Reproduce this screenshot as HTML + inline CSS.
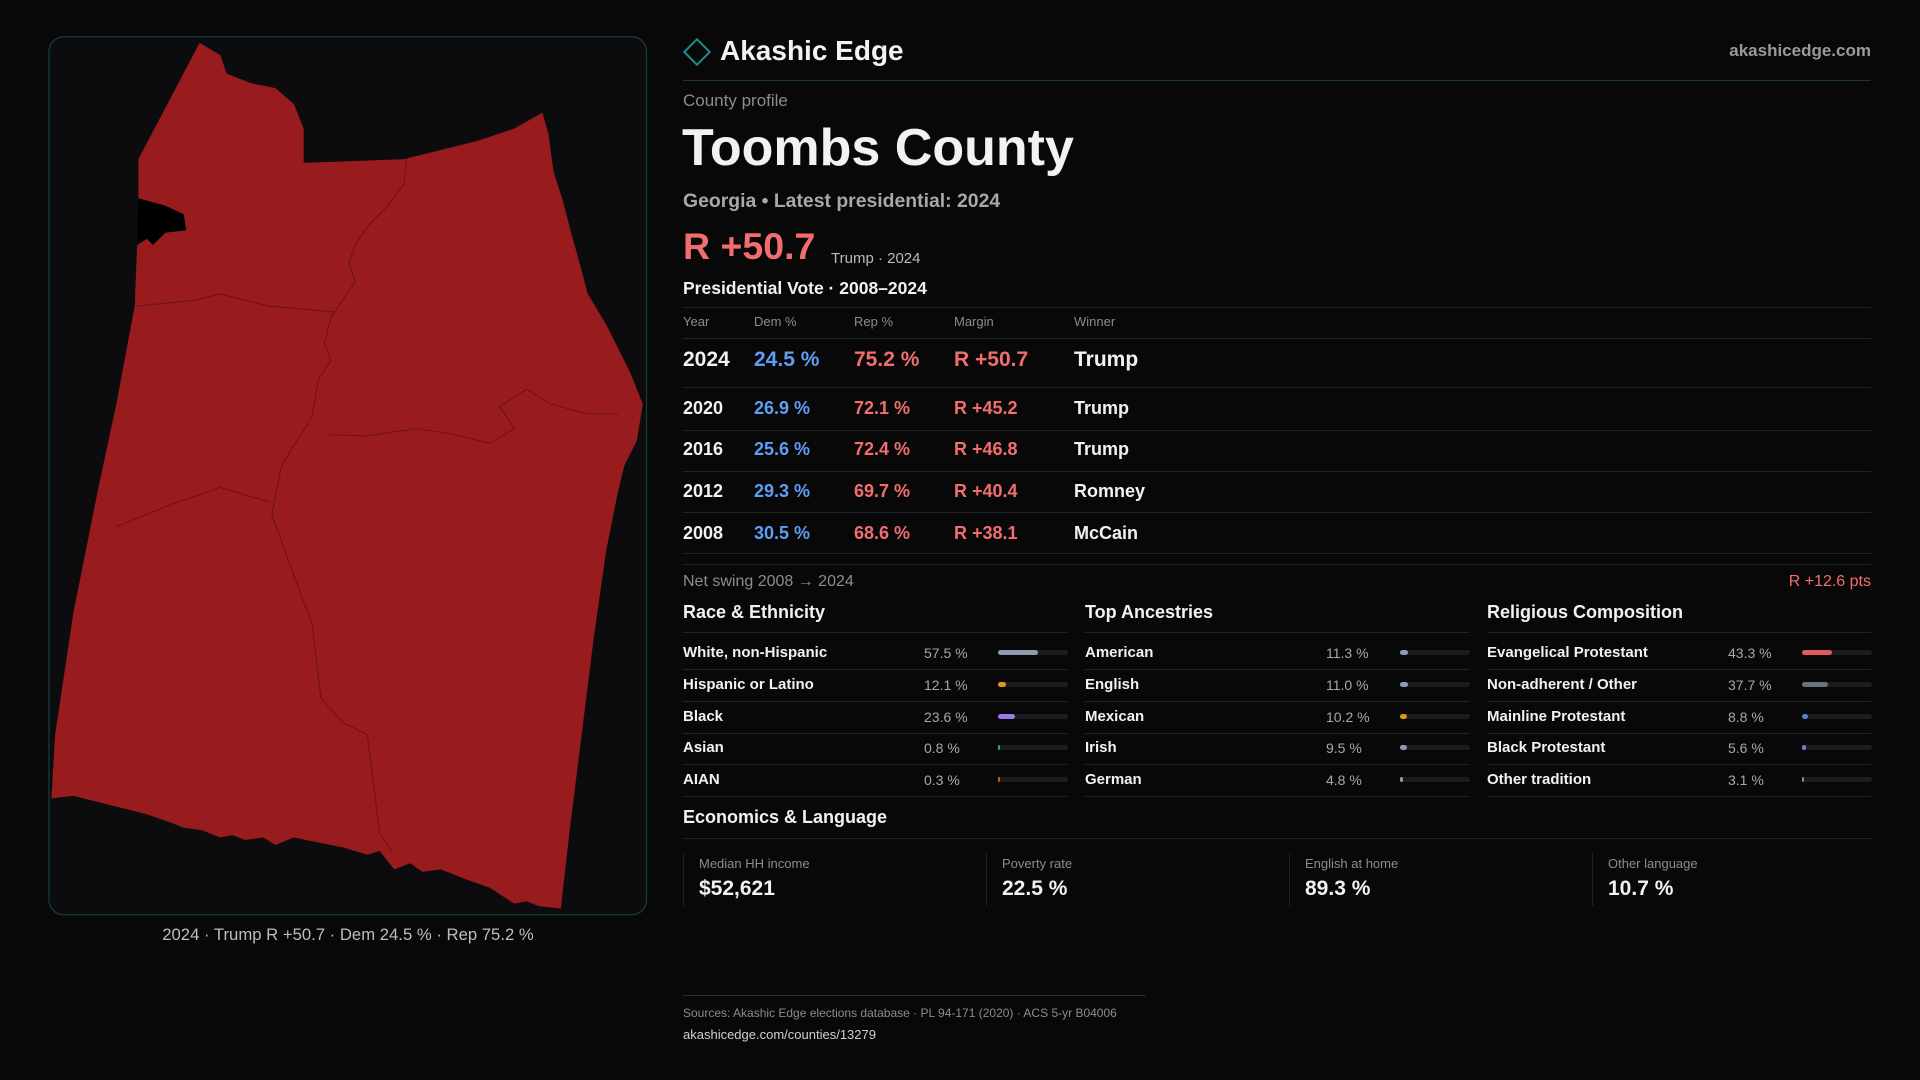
<!DOCTYPE html>
<html><head><meta charset="utf-8">
<style>
*{margin:0;padding:0;box-sizing:border-box}
body{width:1920px;height:1080px;background:#080808;font-family:"Liberation Sans",sans-serif;color:#f2f2f2;position:relative;overflow:hidden}
.a{position:absolute;white-space:nowrap}
.hl{position:absolute;height:1px;background:#242426}
.blue{color:#5f9ef5}.red{color:#f26d6d}
.lbl{color:#8c8c8c}
</style></head><body>
<svg class="a" style="left:0;top:0" width="1920" height="1080" viewBox="0 0 1568 882">
<rect x="40" y="30" width="488" height="717" rx="12" fill="#0c0c0e" stroke="#163c42" stroke-width="1"/>
<path fill="#981b1e" d="M163,35 L180,45 L185,60 L205,68 L225,72 L240,85 L248,105 L248,133 L330,130 L390,115 L420,105 L443,92 L448,110 L452,140 L460,165 L465,185 L472,210 L480,240 L495,265 L505,285 L515,305 L525,330 L520,360 L510,380 L505,400 L495,450 L485,520 L475,600 L465,680 L458,742 L440,740 L430,736 L420,738 L400,725 L380,718 L360,710 L345,712 L335,705 L322,710 L310,695 L300,698 L280,692 L260,688 L240,684 L225,690 L215,684 L200,686 L190,682 L180,684 L165,678 L150,676 L140,672 L120,665 L100,660 L80,655 L60,650 L42,652 L45,600 L60,500 L80,400 L95,330 L110,250 L112,200 L120,195 L125,200 L135,190 L152,188 L150,175 L135,168 L113,162 L113,130 Z"/>
<g fill="none" stroke="#6a1214" stroke-width="0.8">
<path d="M112,250 L160,245 L180,240 L220,250 L275,255"/>
<path d="M332,130 L330,150 L315,170 L300,185 L290,200 L285,215 L290,230 L280,245 L270,260 L265,280 L270,295 L260,310 L255,340 L230,380 L222,420"/>
<path d="M95,430 L140,412 L180,398 L220,410"/>
<path d="M222,420 L240,470 L255,510 L262,570 L280,590 L300,600 L305,640 L310,680 L320,695"/>
<path d="M268,355 L300,356 L340,350 L372,355 L400,362 L420,350 L408,332 L430,318 L450,330 L480,338 L505,338"/>
</g>
<path fill="#000" d="M113,162 L135,168 L150,175 L152,188 L135,190 L125,200 L120,195 L112,200 Z"/>
</svg>
<div class="a" style="left:49px;width:598px;top:925px;text-align:center;font-size:16.7px;color:#bdbdbd">2024 · Trump R +50.7 · Dem 24.5 % · Rep 75.2 %</div>

<div class="a" style="left:687px;top:42px;width:20px;height:20px;border:2px solid #1e8c8a;transform:rotate(45deg)"></div>
<div class="a" style="left:720px;top:35px;font-size:28px;font-weight:bold">Akashic Edge</div>
<div class="a" style="right:49px;top:41px;font-size:17px;color:#9a9a9a;font-weight:bold">akashicedge.com</div>
<div class="hl" style="left:683px;width:1188px;top:80px;background:#17353a"></div>
<div class="a lbl" style="left:683px;top:91px;font-size:17px">County profile</div>
<div class="a" style="left:682px;top:118px;font-size:52px;font-weight:bold">Toombs County</div>
<div class="a" style="left:683px;top:190px;font-size:19.4px;color:#a8a8a8;font-weight:bold">Georgia • Latest presidential: 2024</div>
<div class="a red" style="left:683px;top:225px;font-size:37.5px;font-weight:bold">R +50.7</div>
<div class="a" style="left:831px;top:250px;font-size:15px;color:#bbb">Trump · 2024</div>
<div class="a" style="left:683px;top:278px;font-size:17.5px;font-weight:bold">Presidential Vote · 2008–2024</div>
<div class="hl" style="left:683px;width:1188px;top:307px"></div>
<div id="table"></div>

<div class="a lbl" style="left:683px;top:573px;font-size:16px">Net swing 2008 → 2024</div>
<div class="a red" style="right:49px;top:573px;font-size:16px">R +12.6 pts</div>
<div id="demo"></div>

<div class="a" style="left:683px;top:807px;font-size:18px;font-weight:bold">Economics &amp; Language</div>
<div class="hl" style="left:683px;width:1188px;top:838px"></div>
<div id="cards"></div>

<div class="hl" style="left:683px;width:463px;top:995px;background:#17353a"></div>
<div class="a" style="left:683px;top:1006px;font-size:12px;color:#8c8c8c">Sources: Akashic Edge elections database · PL 94-171 (2020) · ACS 5-yr B04006</div>
<div class="a" style="left:683px;top:1027px;font-size:13px;color:#cfcfcf">akashicedge.com/counties/13279</div>

<script>
const years=["2024","2020","2016","2012","2008"];
const demPct=[24.5,26.9,25.6,29.3,30.5];
const repPct=[75.2,72.1,72.4,69.7,68.6];
const winners=["Trump","Trump","Trump","Romney","McCain"];
const raceLabels=["White, non-Hispanic","Hispanic or Latino","Black","Asian","AIAN"];
const raceVals=[57.5,12.1,23.6,0.8,0.3];
const raceColors=["#8c9bb0","#e0961a","#9b7be3","#1fa57a","#c4621c"];
const ancLabels=["American","English","Mexican","Irish","German"];
const ancVals=[11.3,11.0,10.2,9.5,4.8];
const ancColors=["#8c9bb0","#8c9bb0","#e0961a","#8c9bb0","#8c9bb0"];
const relLabels=["Evangelical Protestant","Non-adherent / Other","Mainline Protestant","Black Protestant","Other tradition"];
const relVals=[43.3,37.7,8.8,5.6,3.1];
const relColors=["#e05a5a","#6a707c","#4a82e3","#8a6ae3","#8a8a8a"];
const cardLabels=["Median HH income","Poverty rate","English at home","Other language"];
const cardVals=["$52,621","22.5 %","89.3 %","10.7 %"];

function mk(parent,cls,style,text){const d=document.createElement('div');d.className=cls;d.style.cssText=style;if(text!==undefined)d.textContent=text;parent.appendChild(d);return d;}
const t=document.getElementById('table');
const cols=[683,754,854,954,1074];
["Year","Dem %","Rep %","Margin","Winner"].forEach((h,i)=>{const e=mk(t,'a lbl','left:'+cols[i]+'px;top:314px;font-size:13px',h);

});
mk(t,'hl','left:683px;width:1188px;top:338px');
const rowY=[348,398,439,481,523];const lineY=[387,430,471,512,553];
years.forEach((y,i)=>{
 const fs=i==0?21:18;const top=rowY[i];
 const m=(repPct[i]-demPct[i]).toFixed(1);
 const cells=[[y,''],[demPct[i].toFixed(1)+' %','blue'],[repPct[i].toFixed(1)+' %','red'],['R +'+m,'red'],[winners[i],'']];
 cells.forEach((c,j)=>{const e=mk(t,'a '+c[1],'left:'+cols[j]+'px;top:'+top+'px;font-size:'+fs+'px;font-weight:bold',c[0]);
 
 });
 mk(t,'hl','left:683px;width:1188px;top:'+lineY[i]+'px');
});
mk(t,'hl','left:683px;width:1188px;top:564px');
const dm=document.getElementById('demo');
const groups=[["Race & Ethnicity",raceLabels,raceVals,raceColors,683],["Top Ancestries",ancLabels,ancVals,ancColors,1085],["Religious Composition",relLabels,relVals,relColors,1487]];
groups.forEach(g=>{
 const x=g[4];
 const h=mk(dm,'a','left:'+x+'px;top:602px;font-size:18px;font-weight:bold',g[0]);
 
 
 mk(dm,'hl','left:'+x+'px;width:384px;top:632px');
 g[1].forEach((l,i)=>{
  const y=644+i*31.8;
  const le=mk(dm,'a','left:'+x+'px;top:'+y+'px;font-size:15px;font-weight:bold',l);
  
  
  const ve=mk(dm,'a','left:'+(x+241)+'px;top:'+(y+1)+'px;font-size:14px;color:#a8a8a8',g[2][i].toFixed(1)+' %');
  
  
  const tr=mk(dm,'a','left:'+(x+315)+'px;top:'+(y+6)+'px;width:70px;height:5px;border-radius:3px;background:#1c1c1f');
  
  
  const w=Math.max(2,g[2][i]/100*70);
  const b=mk(tr,'','position:absolute;left:0;top:0;height:5px;border-radius:3px;width:'+w+'px;background:'+g[3][i]);
  
  
  mk(dm,'hl','left:'+x+'px;width:384px;top:'+(y+25)+'px');
 });
});
const cd=document.getElementById('cards');
cardLabels.forEach((l,i)=>{
 const x=683+i*303;
 const c=mk(cd,'a','left:'+x+'px;top:853px;width:290px;height:53px;border-left:1px solid #202022');
 
 
 mk(c,'a lbl','left:15px;top:3px;font-size:13px',l);
 mk(c,'a','left:15px;top:24px;font-size:21px;font-weight:bold',cardVals[i]);
});
</script>
</body></html>
